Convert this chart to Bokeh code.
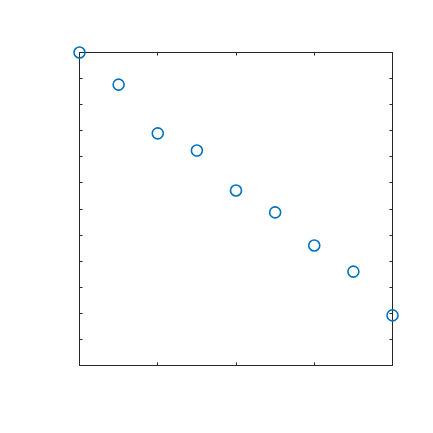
from bokeh.plotting import figure
from bokeh.models import LinearAxis, FixedTicker, Range1d
from bokeh.embed import file_html
from bokeh.resources import INLINE

x_vals = [0, 1, 2, 3, 4, 5, 6, 7, 8]
y_vals = [12.0, 10.77, 8.9, 8.24, 6.71, 5.87, 4.6, 3.6, 1.92]
x_ticks = [0, 2, 4, 6, 8]
y_ticks = list(range(0, 13))

x_lo, x_hi = 0, 8
y_lo, y_hi = 0, 12
box_px = 313
pad_px = 16
xp = (x_hi - x_lo) * pad_px / box_px
yp = (y_hi - y_lo) * pad_px / box_px

p = figure(width=417, height=417, output_backend="svg", toolbar_location=None,
           x_range=Range1d(x_lo - xp, x_hi + xp), y_range=Range1d(y_lo - yp, y_hi + yp),
           x_axis_location=None, y_axis_location=None,
           min_border_left=63, min_border_right=9, min_border_top=36, min_border_bottom=36)
p.xgrid.visible = False
p.ygrid.visible = False
p.outline_line_color = None
p.background_fill_color = "white"
p.border_fill_color = "white"

axis_color = "#262626"
specs = (("below", x_ticks, y_lo, (x_lo, x_hi)),
         ("above", x_ticks, y_hi, (x_lo, x_hi)),
         ("left", y_ticks, x_lo, (y_lo, y_hi)),
         ("right", y_ticks, x_hi, (y_lo, y_hi)))
for loc, ticks, fixed, bounds in specs:
    ax = LinearAxis(ticker=FixedTicker(ticks=ticks), fixed_location=fixed, bounds=bounds)
    ax.major_label_text_font_size = "0pt"
    ax.major_label_text_color = None
    ax.major_tick_in = 3
    ax.major_tick_out = 0
    ax.minor_tick_line_color = None
    ax.axis_line_color = axis_color
    ax.major_tick_line_color = axis_color
    ax.axis_line_width = 1
    ax.major_label_standoff = 0
    p.add_layout(ax, loc)

p.scatter(x_vals, y_vals, marker="circle", size=11, fill_color=None,
          line_color="#0072BD", line_width=1.6, level="overlay")

open("out.html", "w").write(file_html(p, INLINE))
